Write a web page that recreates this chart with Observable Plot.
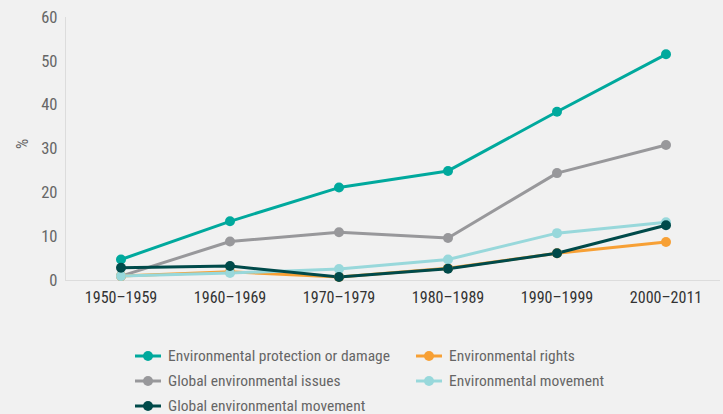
<!DOCTYPE html>
<html>
<head>
<meta charset="utf-8">
<script src="https://cdn.jsdelivr.net/npm/d3@7"></script>
<script src="https://cdn.jsdelivr.net/npm/@observablehq/plot@0.6"></script>
<style>
  html, body { margin: 0; padding: 0; background: #f1f1f1; }
  body { width: 723px; height: 414px; overflow: hidden; position: relative;
         font-family: "Roboto Condensed", Roboto, sans-serif; }
  #chart { position: absolute; left: 0; top: 0; }
  .leg { position: absolute; display: flex; align-items: center; font-size: 15.5px; line-height: 16px; height: 16px; color: #666; white-space: nowrap; }
  .leg svg { margin-right: 7px; }
</style>
</head>
<body>
<div id="chart"></div>
<div id="legend"></div>
<script>
const periods = ["1950–1959", "1960–1969", "1970–1979", "1980–1989", "1990–1999", "2000–2011"];
const seriesNames = [
  "Environmental protection or damage",
  "Global environmental issues",
  "Environmental rights",
  "Environmental movement",
  "Global environmental movement"
];
const seriesColors = ["#00a99d", "#98989b", "#f7a035", "#98d8db", "#004a4a"];
const protectionOrDamage = [4.8, 13.5, 21.2, 25.0, 38.5, 51.6];
const globalIssues = [1.0, 8.9, 11.0, 9.7, 24.5, 30.9];
const rights = [1.0, 2.0, 0.8, 2.8, 6.2, 8.8];
const movement = [1.0, 1.7, 2.6, 4.8, 10.8, 13.3];
const globalMovement = [2.9, 3.3, 0.8, 2.7, 6.2, 12.6];
const yTicks = [0, 10, 20, 30, 40, 50, 60];

const seriesValues = [protectionOrDamage, globalIssues, rights, movement, globalMovement];
const data = [];
seriesNames.forEach((name, i) => {
  periods.forEach((p, j) => data.push({series: name, period: p, value: seriesValues[i][j]}));
});

const FONT = '"Roboto Condensed", Roboto, sans-serif';
const chart = Plot.plot({
  width: 723,
  height: 314,
  marginTop: 17,
  marginBottom: 34,
  marginLeft: 65,
  marginRight: 3,
  style: {background: "transparent", fontFamily: FONT, fontSize: "16px", color: "#555"},
  x: {type: "band", domain: periods, padding: 0, label: null},
  y: {domain: [0, 60], ticks: yTicks, label: null},
  color: {domain: seriesNames, range: seriesColors},
  marks: [
    Plot.frame({anchor: "left", stroke: "#dcdcdc"}),
    Plot.ruleY([0], {stroke: "#dcdcdc", strokeWidth: 1.2}),
    Plot.axisX({tickSize: 0, tickPadding: 11, fill: "#333", fontSize: "16px"}),
    Plot.axisY({tickSize: 0, tickPadding: 8, ticks: yTicks, fill: "#666", fontSize: "16.5px", label: null}),
    Plot.text(["%"], {frameAnchor: "left", dx: -43, rotate: -90, fill: "#666", fontSize: "16px"}),
    Plot.line(data, {x: "period", y: "value", z: "series", stroke: "series", strokeWidth: 3}),
    Plot.dot(data, {x: "period", y: "value", fill: "series", r: 5})
  ]
});
document.getElementById("chart").appendChild(chart);

// legend
const legendOrder = [0, 2, 1, 3, 4];
const legend = document.getElementById("legend");
legendOrder.forEach((idx, k) => {
  const col = k % 2, row = Math.floor(k / 2);
  const div = document.createElement("div");
  div.className = "leg";
  div.style.left = (col === 0 ? 135 : 416) + "px";
  div.style.top = (355.5 + row * 25.3 - 8) + "px";
  const c = seriesColors[idx];
  div.innerHTML = `<svg width="26" height="12"><line x1="0" x2="26" y1="6" y2="6" stroke="${c}" stroke-width="3"/><circle cx="13" cy="6" r="5" fill="${c}"/></svg><span>${seriesNames[idx]}</span>`;
  legend.appendChild(div);
});
</script>
</body>
</html>
